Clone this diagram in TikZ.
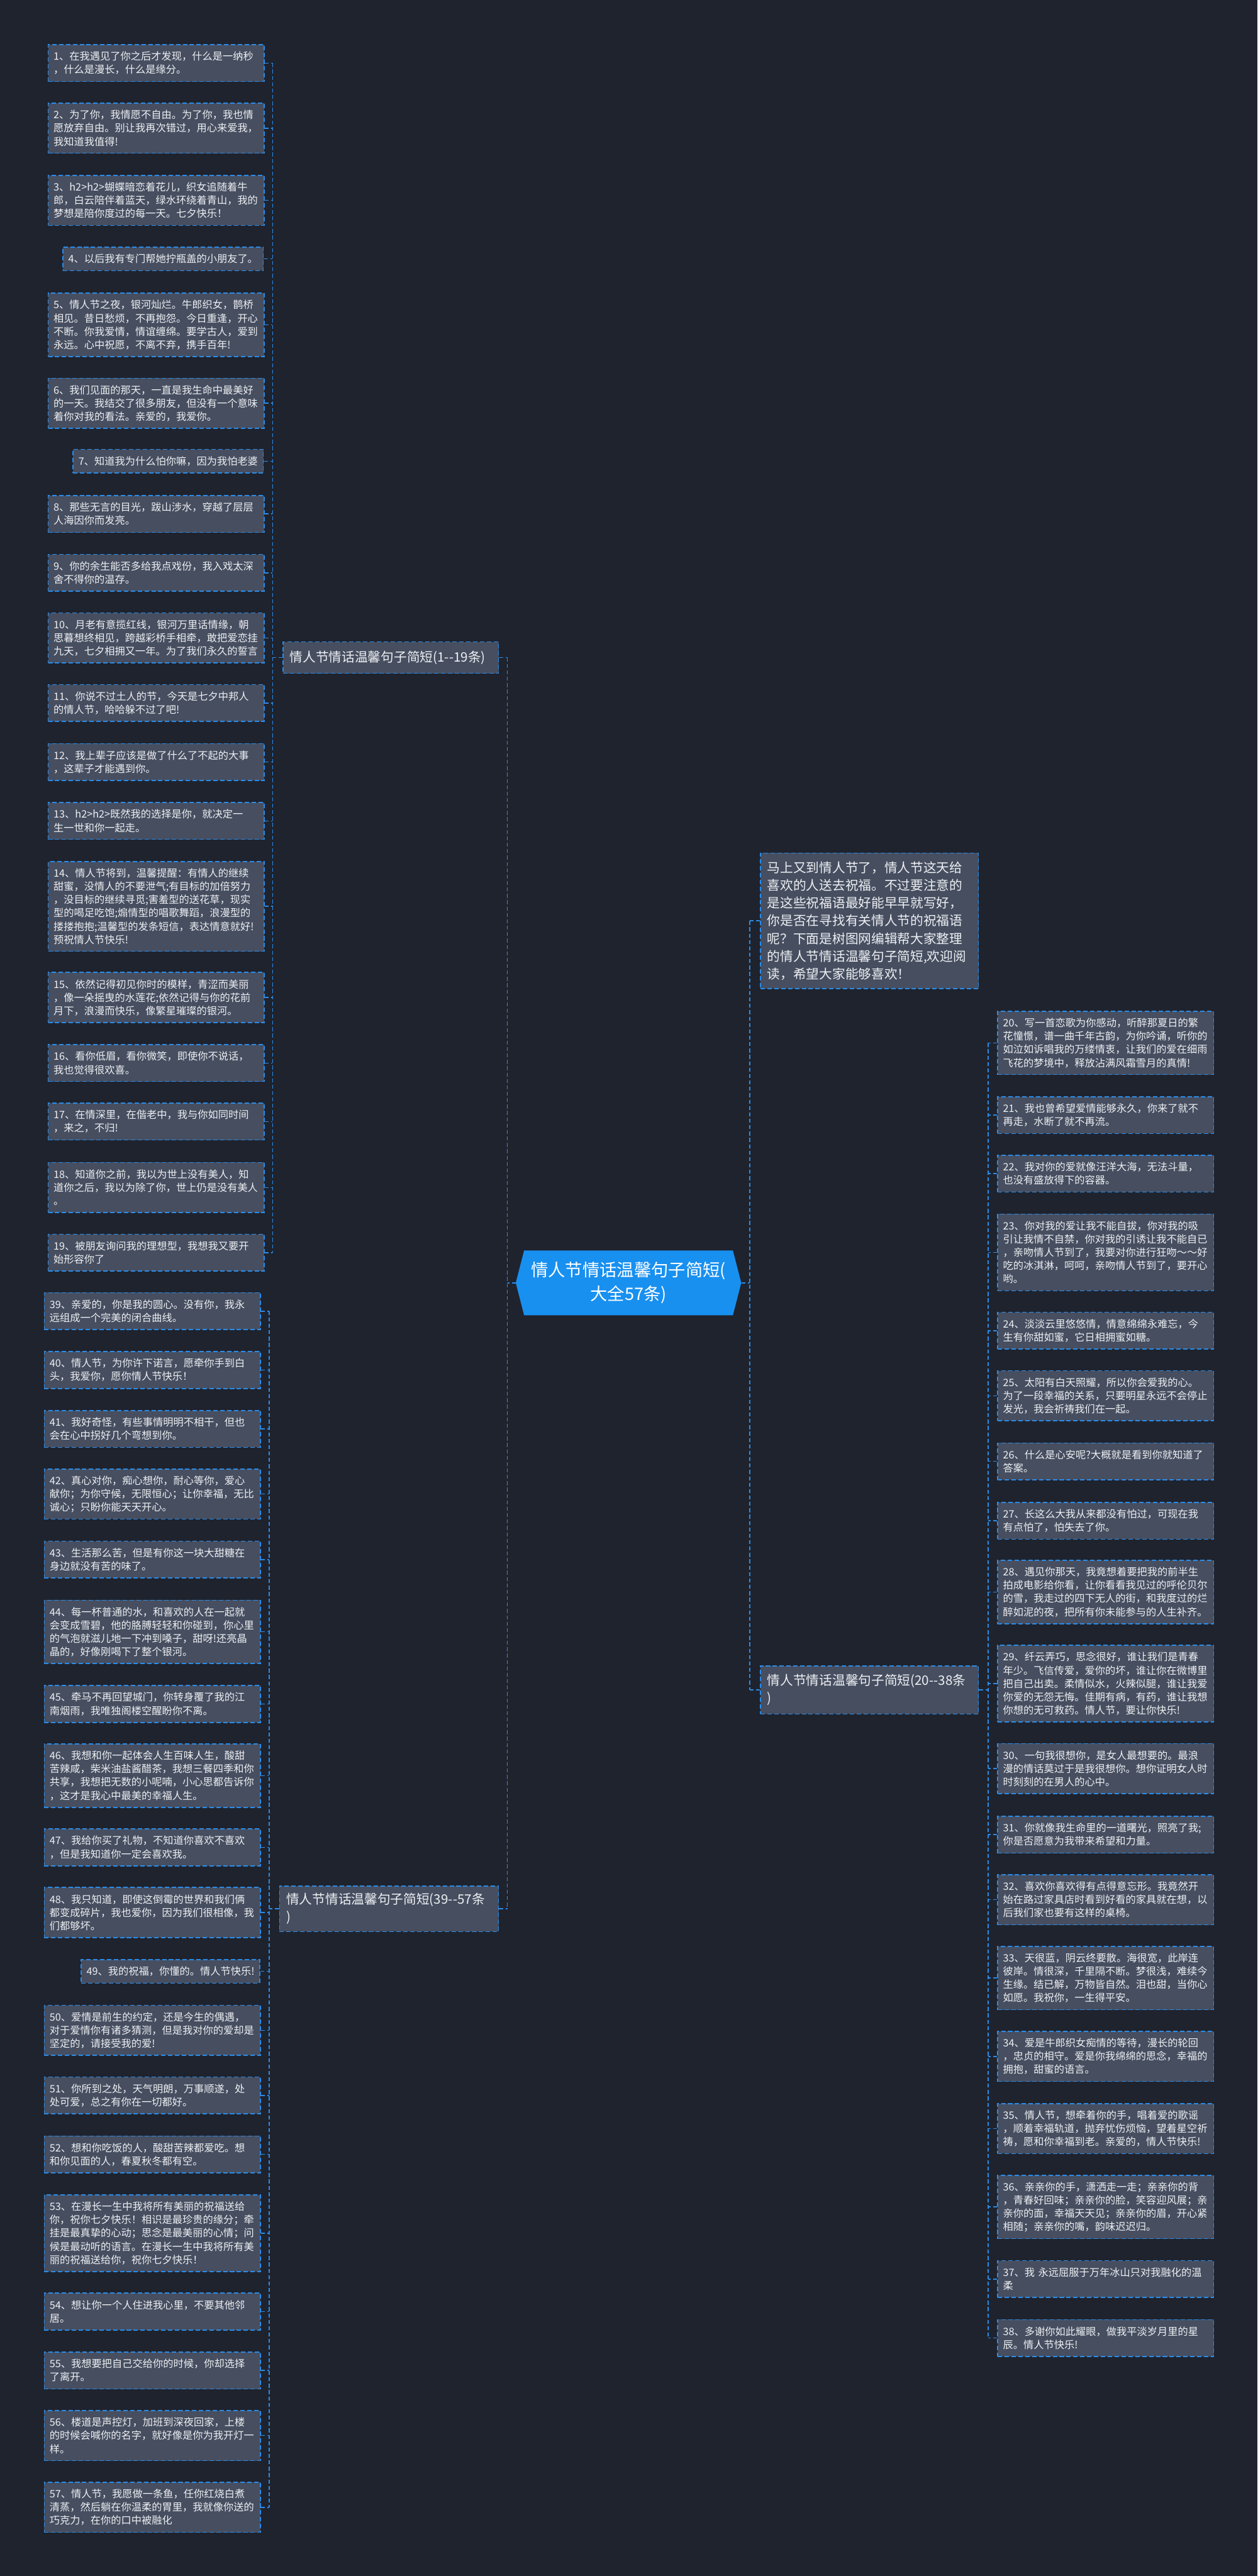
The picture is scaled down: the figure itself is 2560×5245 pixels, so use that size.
\documentclass[tikz,border=0pt]{standalone}
\usepackage{fontspec}
\setmainfont{Noto Sans CJK SC}
\definecolor{bgc}{HTML}{1F232E}
\definecolor{leaffill}{HTML}{464E60}
\definecolor{edgeblue}{HTML}{2B8BE6}
\definecolor{textc}{HTML}{EEF0F3}
\definecolor{centerblue}{HTML}{1890F0}
\tikzset{
  leaf/.style={draw=edgeblue, fill=leaffill, line width=2pt, dash pattern=on 9pt off 5pt,
    text=textc, font=\fontsize{20.8}{27}\selectfont, inner xsep=11pt, inner ysep=4pt, align=left},
  leafw/.style={leaf, text width=418pt},
  midbox/.style={draw=edgeblue, fill=leaffill, line width=2pt, dash pattern=on 9pt off 5pt,
    text=textc, font=\fontsize{26.5}{36}\selectfont, inner xsep=14pt, inner ysep=4pt, align=left},
  conn/.style={draw=edgeblue, line width=2pt, dash pattern=on 8pt off 5pt},
}
\newcommand\leafnode[4]{\node[leafw,anchor=north west,minimum height={21+27*#3}] (#1) at (#2) {#4};}
\newcommand\narrownode[3]{\node[leaf,anchor=north east,minimum height=48] (#1) at (#2) {#3};}
\begin{document}
\begin{tikzpicture}[x=1pt,y=-1pt]
\useasboundingbox (0,0) rectangle (2560,5245);
\fill[bgc] (0,0) rectangle (2560,5245);

% center
\node[minimum width=459pt, minimum height=132pt, inner sep=0pt, text=white, align=center,
  font=\fontsize{35}{48}\selectfont,
  path picture={\fill[centerblue] ([xshift=17pt]path picture bounding box.north west) -- ([xshift=-17pt]path picture bounding box.north east) -- (path picture bounding box.east) -- ([xshift=-17pt]path picture bounding box.south east) -- ([xshift=17pt]path picture bounding box.south west) -- (path picture bounding box.west) -- cycle;}]
  (center) at (1279.5,2612) {情人节情话温馨句子简短(\\大全57条)};

% level 2
\node[midbox, anchor=north west, text width=411pt, minimum height=64] (L1) at (575,1306) {情人节情话温馨句子简短(1-{}-19条)};
\node[midbox, anchor=north west, text width=418pt, minimum height=93] (L3) at (568,3839) {情人节情话温馨句子简短(39-{}-57条\\)};
\node[midbox, anchor=north west, text width=416pt, minimum height=98] (R2) at (1547,3391) {情人节情话温馨句子简短(20-{}-38条\\)};
\node[midbox, anchor=north west, text width=416pt, minimum height=276] (desc) at (1547,1736) {马上又到情人节了，情人节这天给\\喜欢的人送去祝福。不过要注意的\\是这些祝福语最好能早早就写好，\\你是否在寻找有关情人节的祝福语\\呢？下面是树图网编辑帮大家整理\\的情人节情话温馨句子简短,欢迎阅\\读，希望大家能够喜欢！};

% nodes 1-19
\leafnode{n1}{97,90}{2}{1、在我遇见了你之后才发现，什么是一纳秒\\，什么是漫长，什么是缘分。}
\leafnode{n2}{97,209}{3}{2、为了你，我情愿不自由。为了你，我也情\\愿放弃自由。别让我再次错过，用心来爱我，\\我知道我值得!}
\leafnode{n3}{97,356}{3}{3、h2>h2>蝴蝶暗恋着花儿，织女追随着牛\\郎，白云陪伴着蓝天，绿水环绕着青山，我的\\梦想是陪你度过的每一天。七夕快乐！}
\narrownode{n4}{537,502}{4、以后我有专门帮她拧瓶盖的小朋友了。}
\leafnode{n5}{97,596}{4}{5、情人节之夜，银河灿烂。牛郎织女，鹊桥\\相见。昔日愁烦，不再抱怨。今日重逢，开心\\不断。你我爱情，情谊缠绵。要学古人，爱到\\永远。心中祝愿，不离不弃，携手百年!}
\leafnode{n6}{97,769}{3}{6、我们见面的那天，一直是我生命中最美好\\的一天。我结交了很多朋友，但没有一个意味\\着你对我的看法。亲爱的，我爱你。}
\narrownode{n7}{537,914}{7、知道我为什么怕你嘛，因为我怕老婆}
\leafnode{n8}{97,1008}{2}{8、那些无言的目光，跋山涉水，穿越了层层\\人海因你而发亮。}
\leafnode{n9}{97,1128}{2}{9、你的余生能否多给我点戏份，我入戏太深\\舍不得你的温存。}
\leafnode{n10}{97,1247}{3}{10、月老有意揽红线，银河万里话情缘，朝\\思暮想终相见，跨越彩桥手相牵，敢把爱恋挂\\九天，七夕相拥又一年。为了我们永久的誓言}
\leafnode{n11}{97,1393}{2}{11、你说不过土人的节，今天是七夕中邦人\\的情人节，哈哈躲不过了吧!}
\leafnode{n12}{97,1513}{2}{12、我上辈子应该是做了什么了不起的大事\\，这辈子才能遇到你。}
\leafnode{n13}{97,1633}{2}{13、h2>h2>既然我的选择是你，就决定一\\生一世和你一起走。}
\leafnode{n14}{97,1753}{6}{14、情人节将到，温馨提醒：有情人的继续\\甜蜜，没情人的不要泄气;有目标的加倍努力\\，没目标的继续寻觅;害羞型的送花草，现实\\型的喝足吃饱;煽情型的唱歌舞蹈，浪漫型的\\搂搂抱抱;温馨型的发条短信，表达情意就好!\\预祝情人节快乐!}
\leafnode{n15}{97,1979}{3}{15、依然记得初见你时的模样，青涩而美丽\\，像一朵摇曳的水莲花;依然记得与你的花前\\月下，浪漫而快乐，像繁星璀璨的银河。}
\leafnode{n16}{97,2126}{2}{16、看你低眉，看你微笑，即使你不说话，\\我也觉得很欢喜。}
\leafnode{n17}{97,2245}{2}{17、在情深里，在偕老中，我与你如同时间\\，来之，不归!}
\leafnode{n18}{97,2366}{3}{18、知道你之前，我以为世上没有美人，知\\道你之后，我以为除了你，世上仍是没有美人\\。}
\leafnode{n19}{97,2512}{2}{19、被朋友询问我的理想型，我想我又要开\\始形容你了}

% nodes 20-38
\leafnode{n20}{2030,2058}{4}{20、写一首恋歌为你感动，听醉那夏日的繁\\花憧憬，谱一曲千年古韵，为你吟诵，听你的\\如泣如诉唱我的万缕情衷，让我们的爱在细雨\\飞花的梦境中，释放沾满风霜雪月的真情!}
\leafnode{n21}{2030,2232}{2}{21、我也曾希望爱情能够永久，你来了就不\\再走，水断了就不再流。}
\leafnode{n22}{2030,2351}{2}{22、我对你的爱就像汪洋大海，无法斗量，\\也没有盛放得下的容器。}
\leafnode{n23}{2030,2471}{5}{23、你对我的爱让我不能自拔，你对我的吸\\引让我情不自禁，你对我的引诱让我不能自已\\，亲吻情人节到了，我要对你进行狂吻～～好\\吃的冰淇淋，呵呵，亲吻情人节到了，要开心\\哟。}
\leafnode{n24}{2030,2671}{2}{24、淡淡云里悠悠情，情意绵绵永难忘，今\\生有你甜如蜜，它日相拥蜜如糖。}
\leafnode{n25}{2030,2790}{3}{25、太阳有白天照耀，所以你会爱我的心。\\为了一段幸福的关系，只要明星永远不会停止\\发光，我会祈祷我们在一起。}
\leafnode{n26}{2030,2937}{2}{26、什么是心安呢?大概就是看到你就知道了\\答案。}
\leafnode{n27}{2030,3058}{2}{27、长这么大我从来都没有怕过，可现在我\\有点怕了，怕失去了你。}
\leafnode{n28}{2030,3176}{4}{28、遇见你那天，我竟想着要把我的前半生\\拍成电影给你看，让你看看我见过的呼伦贝尔\\的雪，我走过的四下无人的街，和我度过的烂\\醉如泥的夜，把所有你未能参与的人生补齐。}
\leafnode{n29}{2030,3349}{5}{29、纤云弄巧，思念很好，谁让我们是青春\\年少。飞信传爱，爱你的坏，谁让你在微博里\\把自己出卖。柔情似水，火辣似腿，谁让我爱\\你爱的无怨无悔。佳期有病，有药，谁让我想\\你想的无可救药。情人节，要让你快乐!}
\leafnode{n30}{2030,3549}{3}{30、一句我很想你，是女人最想要的。最浪\\漫的情话莫过于是我很想你。想你证明女人时\\时刻刻的在男人的心中。}
\leafnode{n31}{2030,3697}{2}{31、你就像我生命里的一道曙光，照亮了我;\\你是否愿意为我带来希望和力量。}
\leafnode{n32}{2030,3816}{3}{32、喜欢你喜欢得有点得意忘形。我竟然开\\始在路过家具店时看到好看的家具就在想，以\\后我们家也要有这样的桌椅。}
\leafnode{n33}{2030,3962}{4}{33、天很蓝，阴云终要散。海很宽，此岸连\\彼岸。情很深，千里隔不断。梦很浅，难续今\\生缘。结已解，万物皆自然。泪也甜，当你心\\如愿。我祝你，一生得平安。}
\leafnode{n34}{2030,4135}{3}{34、爱是牛郎织女痴情的等待，漫长的轮回\\，忠贞的相守。爱是你我绵绵的思念，幸福的\\拥抱，甜蜜的语言。}
\leafnode{n35}{2030,4282}{3}{35、情人节，想牵着你的手，唱着爱的歌谣\\，顺着幸福轨道，抛弃忧伤烦恼，望着星空祈\\祷，愿和你幸福到老。亲爱的，情人节快乐!}
\leafnode{n36}{2030,4428}{4}{36、亲亲你的手，潇洒走一走；亲亲你的背\\，青春好回味；亲亲你的脸，笑容迎风展；亲\\亲你的面，幸福天天见；亲亲你的眉，开心紧\\相随；亲亲你的嘴，韵味迟迟归。}
\leafnode{n37}{2030,4602}{2}{37、我 永远屈服于万年冰山只对我融化的温\\柔}
\leafnode{n38}{2030,4722}{2}{38、多谢你如此耀眼，做我平淡岁月里的星\\辰。情人节快乐!}

% nodes 39-57
\leafnode{n39}{89,2631}{2}{39、亲爱的，你是我的圆心。没有你，我永\\远组成一个完美的闭合曲线。}
\leafnode{n40}{89,2751}{2}{40、情人节，为你许下诺言，愿牵你手到白\\头，我爱你，愿你情人节快乐！}
\leafnode{n41}{89,2871}{2}{41、我好奇怪，有些事情明明不相干，但也\\会在心中拐好几个弯想到你。}
\leafnode{n42}{89,2990}{3}{42、真心对你，痴心想你，耐心等你，爱心\\献你；为你守候，无限恒心；让你幸福，无比\\诚心；只盼你能天天开心。}
\leafnode{n43}{89,3137}{2}{43、生活那么苦，但是有你这一块大甜糖在\\身边就没有苦的味了。}
\leafnode{n44}{89,3257}{4}{44、每一杯普通的水，和喜欢的人在一起就\\会变成雪碧，他的胳膊轻轻和你碰到，你心里\\的气泡就滋儿地一下冲到嗓子，甜呀!还亮晶\\晶的，好像刚喝下了整个银河。}
\leafnode{n45}{89,3431}{2}{45、牵马不再回望城门，你转身覆了我的江\\南烟雨，我唯独阁楼空醒盼你不离。}
\leafnode{n46}{89,3550}{4}{46、我想和你一起体会人生百味人生，酸甜\\苦辣咸，柴米油盐酱醋茶，我想三餐四季和你\\共享，我想把无数的小呢喃，小心思都告诉你\\，这才是我心中最美的幸福人生。}
\leafnode{n47}{89,3723}{2}{47、我给你买了礼物，不知道你喜欢不喜欢\\，但是我知道你一定会喜欢我。}
\leafnode{n48}{89,3842}{3}{48、我只知道，即使这倒霉的世界和我们俩\\都变成碎片，我也爱你，因为我们很相像，我\\们都够坏。}
\narrownode{n49}{530,3989}{49、我的祝福，你懂的。情人节快乐!}
\leafnode{n50}{89,4082}{3}{50、爱情是前生的约定，还是今生的偶遇，\\对于爱情你有诸多猜测，但是我对你的爱却是\\坚定的，请接受我的爱!}
\leafnode{n51}{89,4228}{2}{51、你所到之处，天气明朗，万事顺遂，处\\处可爱，总之有你在一切都好。}
\leafnode{n52}{89,4348}{2}{52、想和你吃饭的人，酸甜苦辣都爱吃。想\\和你见面的人，春夏秋冬都有空。}
\leafnode{n53}{89,4468}{5}{53、在漫长一生中我将所有美丽的祝福送给\\你，祝你七夕快乐！相识是最珍贵的缘分；牵\\挂是最真挚的心动；思念是最美丽的心情；问\\候是最动听的语言。在漫长一生中我将所有美\\丽的祝福送给你，祝你七夕快乐！}
\leafnode{n54}{89,4668}{2}{54、想让你一个人住进我心里，不要其他邻\\居。}
\leafnode{n55}{89,4788}{2}{55、我想要把自己交给你的时候，你却选择\\了离开。}
\leafnode{n56}{89,4907}{3}{56、楼道是声控灯，加班到深夜回家，上楼\\的时候会喊你的名字，就好像是你为我开灯一\\样。}
\leafnode{n57}{89,5053}{3}{57、情人节，我愿做一条鱼，任你红烧白煮\\清蒸，然后躺在你温柔的胃里，我就像你送的\\巧克力，在你的口中被融化}

% bracket x positions
\coordinate (bxL) at (1033,0);
\coordinate (bxR) at (1526,0);
\coordinate (bxA) at (555,0);
\coordinate (bxB) at (2012,0);
\coordinate (bxC) at (548,0);

% center to level 2
\draw[conn] (center.west) -- (center.west -| bxL);
\draw[conn] (L1.east -| bxL) -- (L3.east -| bxL);
\draw[conn] (L1.east) -- (L1.east -| bxL);
\draw[conn] (L3.east) -- (L3.east -| bxL);
\draw[conn] (center.east) -- (center.east -| bxR);
\draw[conn] (desc.west -| bxR) -- (R2.west -| bxR);
\draw[conn] (desc.west) -- (desc.west -| bxR);
\draw[conn] (R2.west) -- (R2.west -| bxR);

% L1 children
\draw[conn] (L1.west) -- (L1.west -| bxA);
\draw[conn] (n1.east -| bxA) -- (n19.east -| bxA);
\foreach \i in {1,...,19} {\draw[conn] (n\i.east) -- (n\i.east -| bxA);}

% R2 children
\draw[conn] (R2.east) -- (R2.east -| bxB);
\draw[conn] (n20.west -| bxB) -- (n38.west -| bxB);
\foreach \i in {20,...,38} {\draw[conn] (n\i.west) -- (n\i.west -| bxB);}

% L3 children
\draw[conn] (L3.west) -- (L3.west -| bxC);
\draw[conn] (n39.east -| bxC) -- (n57.east -| bxC);
\foreach \i in {39,...,57} {\draw[conn] (n\i.east) -- (n\i.east -| bxC);}
\end{tikzpicture}
\end{document}
